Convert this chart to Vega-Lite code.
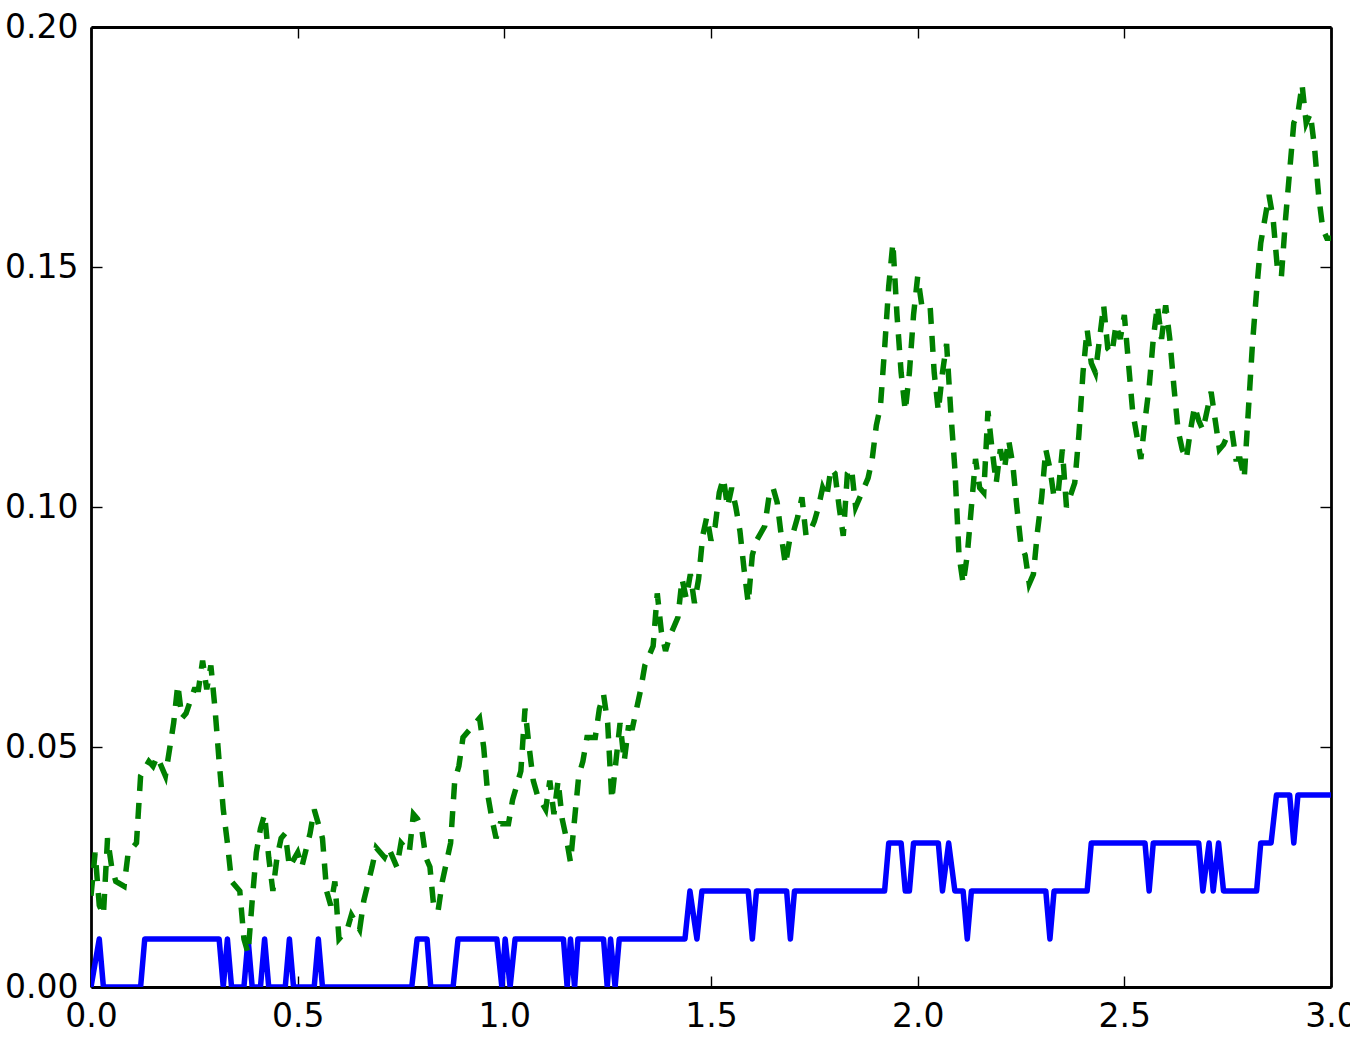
{
  "$schema": "https://vega.github.io/schema/vega-lite/v6.json",
  "width": 1240,
  "height": 960,
  "autosize": "none",
  "padding": {"left": 91, "top": 27, "right": 19, "bottom": 52},
  "background": "white",
  "config": {
    "view": {"stroke": null},
    "axis": {
      "grid": false,
      "domainColor": "black",
      "domainWidth": 2.8,
      "tickColor": "black",
      "tickWidth": 1.4,
      "tickSize": -11,
      "labelFont": "DejaVu Sans",
      "labelFontSize": 33,
      "labelColor": "black",
      "labelPadding": 24,
      "labelFlush": false,
      "labelOverlap": false,
      "labelBound": false,
      "title": null,
      "zindex": 1
    }
  },
  "datasets": {
    "blue": [
      {"t":0,"v":0},{"t":0.02,"v":0.01},{"t":0.03,"v":0},
      {"t":0.12,"v":0},{"t":0.13,"v":0.01},{"t":0.31,"v":0.01},{"t":0.32,"v":0},{"t":0.33,"v":0.01},{"t":0.34,"v":0},
      {"t":0.37,"v":0},{"t":0.38,"v":0.01},{"t":0.39,"v":0},
      {"t":0.41,"v":0},{"t":0.42,"v":0.01},{"t":0.43,"v":0},
      {"t":0.47,"v":0},{"t":0.48,"v":0.01},{"t":0.49,"v":0},
      {"t":0.54,"v":0},{"t":0.55,"v":0.01},{"t":0.56,"v":0},
      {"t":0.776,"v":0},{"t":0.789,"v":0.01},{"t":0.813,"v":0.01},{"t":0.822,"v":0},
      {"t":0.876,"v":0},{"t":0.888,"v":0.01},{"t":0.982,"v":0.01},{"t":0.994,"v":0},{"t":1.002,"v":0.01},{"t":1.014,"v":0},{"t":1.026,"v":0.01},
      {"t":1.143,"v":0.01},{"t":1.152,"v":0},{"t":1.16,"v":0.01},{"t":1.17,"v":0},{"t":1.178,"v":0.01},
      {"t":1.24,"v":0.01},{"t":1.249,"v":0},{"t":1.257,"v":0.01},{"t":1.268,"v":0},{"t":1.278,"v":0.01},
      {"t":1.437,"v":0.01},{"t":1.449,"v":0.02},{"t":1.466,"v":0.01},{"t":1.478,"v":0.02},
      {"t":1.59,"v":0.02},{"t":1.6,"v":0.01},{"t":1.61,"v":0.02},
      {"t":1.683,"v":0.02},{"t":1.692,"v":0.01},{"t":1.702,"v":0.02},
      {"t":1.92,"v":0.02},{"t":1.93,"v":0.03},{"t":1.96,"v":0.03},{"t":1.97,"v":0.02},{"t":1.98,"v":0.02},{"t":1.99,"v":0.03},
      {"t":2.05,"v":0.03},{"t":2.06,"v":0.02},{"t":2.075,"v":0.03},{"t":2.09,"v":0.02},
      {"t":2.11,"v":0.02},{"t":2.12,"v":0.01},{"t":2.13,"v":0.02},
      {"t":2.31,"v":0.02},{"t":2.32,"v":0.01},{"t":2.33,"v":0.02},
      {"t":2.41,"v":0.02},{"t":2.42,"v":0.03},
      {"t":2.55,"v":0.03},{"t":2.56,"v":0.02},{"t":2.57,"v":0.03},
      {"t":2.68,"v":0.03},{"t":2.69,"v":0.02},{"t":2.705,"v":0.03},{"t":2.715,"v":0.02},{"t":2.728,"v":0.03},{"t":2.74,"v":0.02},
      {"t":2.82,"v":0.02},{"t":2.83,"v":0.03},{"t":2.855,"v":0.03},{"t":2.868,"v":0.04},{"t":2.9,"v":0.04},{"t":2.91,"v":0.03},{"t":2.92,"v":0.04},
      {"t":3.0,"v":0.04}
    ],
    "green": [
      {"t":0.00,"v":0.019},{"t":0.01,"v":0.028},{"t":0.02,"v":0.017},{"t":0.03,"v":0.015},{"t":0.04,"v":0.031},{"t":0.05,"v":0.025},{"t":0.06,"v":0.022},{"t":0.08,"v":0.021},{"t":0.09,"v":0.028},{"t":0.11,"v":0.03},
      {"t":0.12,"v":0.044},{"t":0.14,"v":0.047},{"t":0.15,"v":0.046},{"t":0.16,"v":0.048},{"t":0.18,"v":0.044},{"t":0.20,"v":0.055},{"t":0.21,"v":0.063},{"t":0.22,"v":0.056},{"t":0.23,"v":0.057},{"t":0.25,"v":0.062},
      {"t":0.26,"v":0.062},{"t":0.27,"v":0.068},{"t":0.28,"v":0.062},{"t":0.29,"v":0.067},{"t":0.30,"v":0.058},{"t":0.31,"v":0.047},{"t":0.32,"v":0.037},{"t":0.33,"v":0.03},{"t":0.34,"v":0.022},{"t":0.36,"v":0.02},
      {"t":0.37,"v":0.01},{"t":0.38,"v":0.007},{"t":0.39,"v":0.018},{"t":0.40,"v":0.028},{"t":0.41,"v":0.033},{"t":0.42,"v":0.036},{"t":0.43,"v":0.027},{"t":0.44,"v":0.02},{"t":0.45,"v":0.027},{"t":0.46,"v":0.031},
      {"t":0.47,"v":0.032},{"t":0.48,"v":0.025},{"t":0.50,"v":0.028},{"t":0.51,"v":0.025},{"t":0.53,"v":0.032},{"t":0.54,"v":0.037},{"t":0.56,"v":0.031},{"t":0.57,"v":0.02},{"t":0.58,"v":0.017},{"t":0.59,"v":0.022},
      {"t":0.60,"v":0.01},{"t":0.62,"v":0.012},{"t":0.63,"v":0.015},{"t":0.65,"v":0.012},{"t":0.66,"v":0.018},{"t":0.68,"v":0.025},{"t":0.69,"v":0.029},{"t":0.71,"v":0.027},{"t":0.72,"v":0.029},{"t":0.74,"v":0.025},
      {"t":0.75,"v":0.03},{"t":0.77,"v":0.028},{"t":0.78,"v":0.036},{"t":0.79,"v":0.035},{"t":0.80,"v":0.033},{"t":0.81,"v":0.027},{"t":0.82,"v":0.025},{"t":0.83,"v":0.016},{"t":0.84,"v":0.016},{"t":0.85,"v":0.022},
      {"t":0.87,"v":0.03},{"t":0.88,"v":0.043},{"t":0.89,"v":0.046},{"t":0.90,"v":0.052},{"t":0.92,"v":0.054},{"t":0.94,"v":0.056},{"t":0.95,"v":0.05},{"t":0.96,"v":0.04},{"t":0.97,"v":0.035},{"t":0.98,"v":0.031},
      {"t":0.99,"v":0.034},{"t":1.01,"v":0.034},{"t":1.02,"v":0.039},{"t":1.04,"v":0.045},{"t":1.05,"v":0.058},{"t":1.06,"v":0.05},{"t":1.07,"v":0.043},{"t":1.08,"v":0.04},{"t":1.10,"v":0.037},{"t":1.11,"v":0.043},
      {"t":1.12,"v":0.036},{"t":1.13,"v":0.043},{"t":1.14,"v":0.035},{"t":1.15,"v":0.031},{"t":1.16,"v":0.026},{"t":1.17,"v":0.035},{"t":1.18,"v":0.044},{"t":1.19,"v":0.047},{"t":1.20,"v":0.052},{"t":1.22,"v":0.052},
      {"t":1.23,"v":0.058},{"t":1.24,"v":0.061},{"t":1.25,"v":0.055},{"t":1.26,"v":0.039},{"t":1.27,"v":0.047},{"t":1.28,"v":0.055},{"t":1.29,"v":0.047},{"t":1.30,"v":0.054},{"t":1.31,"v":0.054},{"t":1.32,"v":0.058},
      {"t":1.33,"v":0.062},{"t":1.34,"v":0.067},{"t":1.36,"v":0.071},{"t":1.37,"v":0.082},{"t":1.38,"v":0.074},{"t":1.39,"v":0.07},{"t":1.40,"v":0.073},{"t":1.42,"v":0.077},{"t":1.43,"v":0.085},{"t":1.44,"v":0.081},
      {"t":1.45,"v":0.086},{"t":1.46,"v":0.08},{"t":1.47,"v":0.085},{"t":1.48,"v":0.094},{"t":1.49,"v":0.098},{"t":1.50,"v":0.093},{"t":1.51,"v":0.096},{"t":1.52,"v":0.103},{"t":1.53,"v":0.106},{"t":1.54,"v":0.1},
      {"t":1.55,"v":0.104},{"t":1.56,"v":0.1},{"t":1.57,"v":0.095},{"t":1.58,"v":0.087},{"t":1.59,"v":0.08},{"t":1.60,"v":0.09},{"t":1.61,"v":0.093},{"t":1.63,"v":0.096},{"t":1.64,"v":0.102},{"t":1.65,"v":0.104},
      {"t":1.66,"v":0.101},{"t":1.67,"v":0.094},{"t":1.68,"v":0.088},{"t":1.69,"v":0.093},{"t":1.70,"v":0.095},{"t":1.71,"v":0.098},{"t":1.72,"v":0.102},{"t":1.73,"v":0.094},{"t":1.74,"v":0.095},{"t":1.75,"v":0.097},
      {"t":1.76,"v":0.1},{"t":1.77,"v":0.104},{"t":1.78,"v":0.102},{"t":1.79,"v":0.108},{"t":1.80,"v":0.107},{"t":1.81,"v":0.1},{"t":1.82,"v":0.094},{"t":1.83,"v":0.107},{"t":1.84,"v":0.108},{"t":1.85,"v":0.1},
      {"t":1.86,"v":0.102},{"t":1.87,"v":0.104},{"t":1.88,"v":0.106},{"t":1.89,"v":0.11},{"t":1.90,"v":0.117},{"t":1.91,"v":0.121},{"t":1.92,"v":0.133},{"t":1.93,"v":0.146},{"t":1.94,"v":0.155},{"t":1.95,"v":0.14},
      {"t":1.96,"v":0.128},{"t":1.97,"v":0.12},{"t":1.98,"v":0.128},{"t":1.99,"v":0.14},{"t":2.00,"v":0.148},{"t":2.01,"v":0.142},{"t":2.03,"v":0.142},{"t":2.04,"v":0.128},{"t":2.05,"v":0.12},{"t":2.06,"v":0.128},
      {"t":2.07,"v":0.134},{"t":2.08,"v":0.12},{"t":2.09,"v":0.108},{"t":2.10,"v":0.09},{"t":2.11,"v":0.084},{"t":2.12,"v":0.09},{"t":2.13,"v":0.1},{"t":2.14,"v":0.11},{"t":2.15,"v":0.104},{"t":2.16,"v":0.103},
      {"t":2.17,"v":0.12},{"t":2.18,"v":0.112},{"t":2.19,"v":0.105},{"t":2.20,"v":0.112},{"t":2.21,"v":0.108},{"t":2.22,"v":0.114},{"t":2.23,"v":0.109},{"t":2.24,"v":0.1},{"t":2.25,"v":0.092},{"t":2.26,"v":0.09},
      {"t":2.27,"v":0.084},{"t":2.28,"v":0.086},{"t":2.29,"v":0.095},{"t":2.30,"v":0.102},{"t":2.31,"v":0.112},{"t":2.32,"v":0.108},{"t":2.33,"v":0.102},{"t":2.34,"v":0.103},{"t":2.35,"v":0.112},{"t":2.36,"v":0.1},
      {"t":2.38,"v":0.105},{"t":2.39,"v":0.115},{"t":2.40,"v":0.128},{"t":2.41,"v":0.137},{"t":2.42,"v":0.13},{"t":2.43,"v":0.128},{"t":2.44,"v":0.135},{"t":2.45,"v":0.142},{"t":2.46,"v":0.133},{"t":2.47,"v":0.132},
      {"t":2.48,"v":0.138},{"t":2.49,"v":0.135},{"t":2.50,"v":0.14},{"t":2.51,"v":0.13},{"t":2.52,"v":0.12},{"t":2.53,"v":0.115},{"t":2.54,"v":0.11},{"t":2.55,"v":0.118},{"t":2.56,"v":0.125},{"t":2.57,"v":0.135},
      {"t":2.58,"v":0.142},{"t":2.59,"v":0.135},{"t":2.60,"v":0.142},{"t":2.61,"v":0.135},{"t":2.62,"v":0.125},{"t":2.63,"v":0.116},{"t":2.64,"v":0.112},{"t":2.65,"v":0.11},{"t":2.66,"v":0.116},{"t":2.67,"v":0.121},
      {"t":2.68,"v":0.118},{"t":2.69,"v":0.116},{"t":2.70,"v":0.12},{"t":2.71,"v":0.124},{"t":2.72,"v":0.118},{"t":2.73,"v":0.112},{"t":2.74,"v":0.113},{"t":2.75,"v":0.115},{"t":2.76,"v":0.116},{"t":2.77,"v":0.11},
      {"t":2.78,"v":0.11},{"t":2.79,"v":0.106},{"t":2.80,"v":0.12},{"t":2.81,"v":0.134},{"t":2.82,"v":0.145},{"t":2.83,"v":0.155},{"t":2.84,"v":0.16},{"t":2.85,"v":0.165},{"t":2.86,"v":0.16},{"t":2.87,"v":0.15},
      {"t":2.88,"v":0.148},{"t":2.89,"v":0.16},{"t":2.90,"v":0.17},{"t":2.91,"v":0.18},{"t":2.92,"v":0.182},{"t":2.93,"v":0.188},{"t":2.94,"v":0.18},{"t":2.95,"v":0.182},{"t":2.96,"v":0.175},{"t":2.97,"v":0.165},
      {"t":2.98,"v":0.158},{"t":2.99,"v":0.156},{"t":3.00,"v":0.156}
    ]
  },
  "layer": [
    {
      "data": {"name": "blue"},
      "mark": {"type": "line", "color": "#0000ff", "strokeWidth": 5.5, "clip": true, "strokeJoin": "round"},
      "encoding": {
        "x": {"field": "t", "type": "quantitative", "sort": null,
              "scale": {"domain": [0, 3], "nice": false, "zero": false},
              "axis": {"orient": "bottom", "values": [0, 0.5, 1, 1.5, 2, 2.5, 3], "format": ".1f"}},
        "y": {"field": "v", "type": "quantitative",
              "scale": {"domain": [0, 0.2], "nice": false},
              "axis": {"orient": "left", "values": [0, 0.05, 0.1, 0.15, 0.2], "format": ".2f"}}
      }
    },
    {
      "data": {"name": "green"},
      "mark": {"type": "line", "color": "#008000", "strokeWidth": 5.5, "strokeDash": [16, 12], "clip": true},
      "encoding": {
        "x": {"field": "t", "type": "quantitative", "sort": null,
              "axis": {"orient": "top", "values": [0, 0.5, 1, 1.5, 2, 2.5, 3], "labels": false}},
        "y": {"field": "v", "type": "quantitative",
              "axis": {"orient": "right", "values": [0, 0.05, 0.1, 0.15, 0.2], "labels": false}}
      }
    }
  ],
  "resolve": {"axis": {"x": "independent", "y": "independent"}}
}
